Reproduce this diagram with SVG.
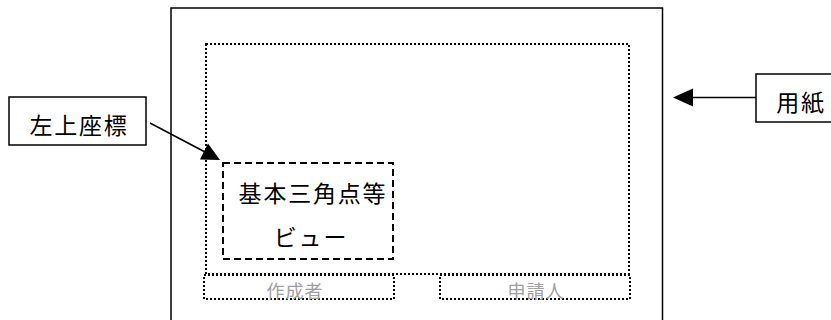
<svg xmlns="http://www.w3.org/2000/svg" width="831" height="320" viewBox="0 0 831 320">
<style>
.t{font-family:"Liberation Sans","Noto Sans CJK JP",sans-serif;fill:#000;text-anchor:middle}
.big{font-size:23px;letter-spacing:1.8px}
.small{font-size:18px;fill:#a0a0a0;letter-spacing:1px}
.box{fill:#fff;stroke:#000;stroke-width:1.5}
.dot{fill:none;stroke:#000;stroke-width:2;stroke-dasharray:2 2}
.dash{fill:none;stroke:#000;stroke-width:2;stroke-dasharray:7 4}
.conn{stroke:#000;stroke-width:1.5;fill:none}
</style>
<rect width="831" height="320" fill="#fff"/>
<g id="paper">
<rect x="171" y="8" width="491.5" height="330" fill="#fff" stroke="#000" stroke-width="1.5"/>
</g>
<g id="print-area">
<rect x="206" y="44" width="423" height="230" class="dot"/>
</g>
<g id="author-box">
<rect x="204" y="275" width="190" height="24" class="dot"/>
<text x="295" y="298" class="t small">作成者</text>
</g>
<g id="applicant-box">
<rect x="440" y="275" width="190" height="24" class="dot"/>
<text x="536" y="298" class="t small">申請人</text>
</g>
<g id="view">
<rect x="223" y="163" width="170" height="96" class="dash"/>
<text x="313" y="202" class="t big">基本三角点等</text>
<text x="311" y="246" class="t big">ビュー</text>
</g>
<g id="label-topleft">
<rect x="9" y="97" width="137" height="48" class="box"/>
<text x="79" y="134" class="t big">左上座標</text>
</g>
<g id="label-paper">
<rect x="756" y="74" width="90" height="48" class="box"/>
<text x="801" y="111" class="t big">用紙</text>
</g>
<g id="connectors">
<line x1="150" y1="123" x2="205" y2="152" class="conn"/>
<polygon points="220,160 208,143.6 200,159.4" fill="#000"/>
<line x1="692" y1="97.5" x2="756" y2="97.5" class="conn"/>
<polygon points="673,97.5 693,88.5 693,106.5" fill="#000"/>
</g>
</svg>
